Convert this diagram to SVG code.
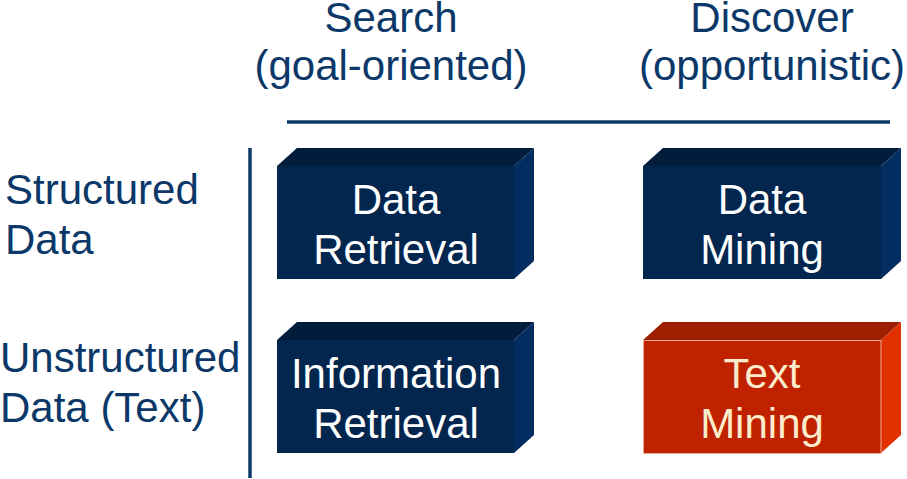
<svg xmlns="http://www.w3.org/2000/svg" width="907" height="479" viewBox="0 0 907 479">
<style>
text{font-family:"Liberation Sans",Arial,sans-serif;font-size:42px}
.hd{fill:#0b3868}
.bt{fill:#ffffff;text-anchor:middle}
.rt{fill:#fbeccb;text-anchor:middle}
.bf{fill:#03264f}.btp{fill:#021d3c}.bs{fill:#032d61}
.rf{fill:#c02200;stroke:#f0a890;stroke-width:1}.rtp{fill:#9b1f00}.rs{fill:#e23100}
</style>
<rect width="907" height="479" fill="#ffffff"/>
<g id="headers">
<text class="hd" x="391" y="32" text-anchor="middle">Search</text>
<text class="hd" x="391" y="80" text-anchor="middle">(goal-oriented)</text>
<text class="hd" x="772" y="32" text-anchor="middle">Discover</text>
<text class="hd" x="772" y="80" text-anchor="middle">(opportunistic)</text>
</g>
<g id="rows">
<text class="hd" x="5" y="204">Structured</text>
<text class="hd" x="5" y="254">Data</text>
<text class="hd" x="0" y="372">Unstructured</text>
<text class="hd" x="0" y="422">Data (Text)</text>
</g>
<g id="connectors">
<line x1="287" y1="122" x2="890" y2="122" stroke="#0b3868" stroke-width="3.5"/>
<line x1="250" y1="148" x2="250" y2="478" stroke="#0b3868" stroke-width="3.5"/>
</g>
<g id="data-retrieval">
<polygon class="btp" points="277,166 297,148 534,148 514,166"/>
<polygon class="bs" points="514,166 534,148 534,261 514,279"/>
<rect class="bf" x="277" y="166" width="237" height="113"/>
<text class="bt" x="396" y="214">Data</text>
<text class="bt" x="396" y="264">Retrieval</text>
</g>
<g id="data-mining">
<polygon class="btp" points="643,166 663,148 901,148 881,166"/>
<polygon class="bs" points="881,166 901,148 901,261 881,279"/>
<rect class="bf" x="643" y="166" width="238" height="113"/>
<text class="bt" x="762" y="214">Data</text>
<text class="bt" x="762" y="264">Mining</text>
</g>
<g id="information-retrieval">
<polygon class="btp" points="277,340 297,322 534,322 514,340"/>
<polygon class="bs" points="514,340 534,322 534,435 514,453"/>
<rect class="bf" x="277" y="340" width="237" height="113"/>
<text class="bt" x="396" y="388">Information</text>
<text class="bt" x="396" y="438">Retrieval</text>
</g>
<g id="text-mining">
<polygon class="rtp" points="643,340 663,322 901,322 881,340"/>
<polygon class="rs" points="881,340 901,322 901,435 881,453"/>
<rect class="rf" x="643.5" y="340.5" width="237.5" height="113"/>
<text class="rt" x="762" y="388">Text</text>
<text class="rt" x="762" y="438">Mining</text>
</g>
</svg>
